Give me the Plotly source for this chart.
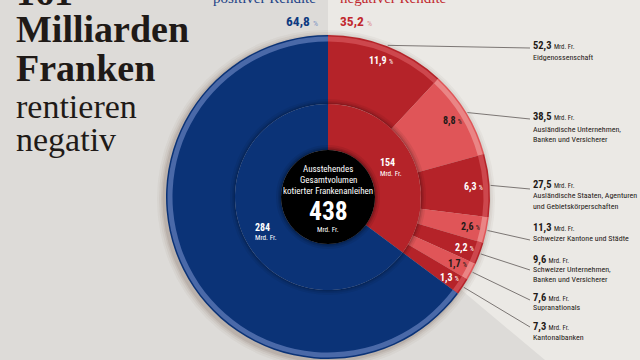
import numpy as np
import plotly.graph_objects as go

# ---------------- data ----------------
segment_values = [52.3, 38.5, 27.5, 11.3, 9.6, 7.6, 7.3]          # Mrd. Fr., negative yield
segment_value_labels = ["52,3", "38,5", "27,5", "11,3", "9,6", "7,6", "7,3"]
segment_pct_labels = ["11,9", "8,8", "6,3", "2,6", "2,2", "1,7", "1,3"]
segment_names = [
    ["Eidgenossenschaft"],
    ["Ausländische Unternehmen,", "Banken und Versicherer"],
    ["Ausländische Staaten, Agenturen", "und Gebietskörperschaften"],
    ["Schweizer Kantone und Städte"],
    ["Schweizer Unternehmen,", "Banken und Versicherer"],
    ["Supranationals"],
    ["Kantonalbanken"],
]
positive_total = 284
negative_total = 154
grand_total = 438
share_labels = ["64,8", "35,2"]
header_labels = ["positiver Rendite", "negativer Rendite"]
centre_lines = ["Ausstehendes", "Gesamtvolumen", "kotierter Frankenanleihen"]
unit = "Mrd. Fr."

# ---------------- style / layout ----------------
W, H = 640, 360
CX, CY = 328, 197
R_OUT, R_RIM_O, R_RIM_I, R_MID, R_IN = 162, 160.5, 155.5, 93, 47

BLUE, BLUE_RIM = "#0b3377", "#4a69a8"
RED_D, RED_L = "#b52329", "#e05558"
RED_D_RIM, RED_L_RIM = "#cd474d", "#ea8585"
TXT = "#1f1a17"
BG_L, BG_R = "#dddbd8", "#ebe9e5"
COND = "Liberation Sans Narrow, Roboto Condensed, Noto Sans Condensed, Liberation Sans, Arial, sans-serif"
SERIF = "Liberation Serif, DejaVu Serif, serif"


def px(x):
    return x / W


def py(y):
    return 1 - y / H


def dom(r):
    return dict(x=[max(0, px(CX - r)), min(1, px(CX + r))],
                y=[max(0, py(CY + r)), min(1, py(CY - r))])


fig = go.Figure()

shapes = []
shapes.append(dict(type="path", xref="paper", yref="paper", layer="below",
                   path=f"M {px(CX)} {py(0)} L 1 {py(0)} L 1 {py(H)} L {px(545)} {py(H)} L {px(CX)} {py(178)} Z",
                   fillcolor=BG_R, line=dict(width=0)))
for k, a in [(7, 0.04), (5, 0.05), (3, 0.07), (1.5, 0.09)]:
    shapes.append(dict(type="circle", xref="paper", yref="paper", layer="below",
                       x0=px(CX - 2 - R_OUT - k), x1=px(CX - 2 + R_OUT + k),
                       y0=py(CY + 2 + R_OUT + k), y1=py(CY + 2 - R_OUT - k),
                       fillcolor=f"rgba(70,45,25,{a})", line=dict(width=0)))

outer_vals = segment_values + [positive_total]
outer_cols = [RED_D if i % 2 == 0 else RED_L for i in range(len(segment_values))] + [BLUE]
rim_cols = [RED_D_RIM if i % 2 == 0 else RED_L_RIM for i in range(len(segment_values))] + [BLUE_RIM]

fig.add_trace(go.Pie(values=outer_vals, marker=dict(colors=outer_cols), domain=dom(R_OUT),
                     hole=R_MID / R_OUT, sort=False, direction="clockwise", rotation=0,
                     textinfo="none", hoverinfo="skip", showlegend=False))
fig.add_trace(go.Pie(values=outer_vals, marker=dict(colors=rim_cols), domain=dom(R_RIM_O),
                     hole=R_RIM_I / R_RIM_O, sort=False, direction="clockwise", rotation=0,
                     textinfo="none", hoverinfo="skip", showlegend=False))
for k, a in [(5, 0.06), (3, 0.08), (1.5, 0.12)]:
    fig.add_trace(go.Pie(values=[1], marker=dict(colors=[f"rgba(0,0,0,{a})"]),
                         domain=dom(R_MID + k), hole=R_MID / (R_MID + k), sort=False,
                         textinfo="none", hoverinfo="skip", showlegend=False))
fig.add_trace(go.Pie(values=[negative_total, positive_total], marker=dict(colors=[RED_D, BLUE]),
                     domain=dom(R_MID), hole=R_IN / R_MID, sort=False, direction="clockwise",
                     rotation=0, textinfo="none", hoverinfo="skip", showlegend=False))
for k, a in [(5, 0.07), (3, 0.1), (1.5, 0.15)]:
    fig.add_trace(go.Pie(values=[1], marker=dict(colors=[f"rgba(0,0,0,{a})"]),
                         domain=dom(R_IN + k), hole=R_IN / (R_IN + k), sort=False,
                         textinfo="none", hoverinfo="skip", showlegend=False))
fig.add_trace(go.Pie(values=[1], marker=dict(colors=["#000000"]), domain=dom(R_IN), hole=0,
                     sort=False, textinfo="none", hoverinfo="skip", showlegend=False))

annotations = []


def ann(x, y, text, size, color=TXT, family=COND, xanchor="left", yanchor="middle", align="left"):
    annotations.append(dict(x=px(x), y=py(y), xref="paper", yref="paper", text=text,
                            showarrow=False, xanchor=xanchor, yanchor=yanchor, align=align,
                            font=dict(size=size, color=color, family=family)))


# title
ann(14, -8.5, "<b>161</b>", 38, family=SERIF)
ann(14, 29, "<b>Milliarden</b>", 38, family=SERIF)
ann(14, 68, "<b>Franken</b>", 38, family=SERIF)
ann(14, 106, "rentieren", 34, family=SERIF)
ann(14, 140, "negativ", 34, family=SERIF)

# header
ann(318, -2.5, header_labels[0], 15, color="#1c3f86", family=SERIF, xanchor="right")
ann(338, -2.5, header_labels[1], 15, color="#c0272d", family=SERIF)
ann(320, 21, f"<b>{share_labels[0]}</b> <span style='font-size:8px;color:#7f95c4'>%</span>", 13.5,
    color="#0d3a80", xanchor="right")
ann(338, 21, f"<b>{share_labels[1]}</b> <span style='font-size:8px;color:#dc8a8c'>%</span>", 13.5,
    color="#c1272d")

# centre
for t, yy in zip(centre_lines, [169, 180, 191]):
    ann(CX, yy, t, 9, color="white", xanchor="center")
ann(CX, 211, f"<b>{grand_total}</b>", 25.5, color="white", xanchor="center")
ann(CX, 229, unit, 7.2, color="white", xanchor="center")
ann(378, 163, f"<b>{negative_total}</b>", 10, color="white")
ann(378, 173, unit, 7.2, color="white")
ann(253, 227, f"<b>{positive_total}</b>", 10, color="white")
ann(253, 237, unit, 7.2, color="white")

# segment labels and leader lines
tot = sum(outer_vals)
cum = np.cumsum([0] + segment_values[:-1])
mids = 2 * np.pi * (cum + np.array(segment_values) / 2) / tot
value_y = [45, 117, 185, 227, 259, 297, 326]
name_y = [57, 129, 196, 238, 269, 307, 337]
line_end_y = [48, 119, 189, 240, 270, 300, 327]
for i, th in enumerate(mids):
    r_t = 146
    tx, ty = CX + r_t * np.sin(th), CY - r_t * np.cos(th)
    col = "white" if i % 2 == 0 else TXT
    ann(tx, ty, f"<b>{segment_pct_labels[i]}</b> <span style='font-size:6.5px'>%</span>", 10,
        color=col, xanchor="center")
    sx, sy = CX + (R_OUT + 1) * np.sin(th), CY - (R_OUT + 1) * np.cos(th)
    shapes.append(dict(type="line", xref="paper", yref="paper", x0=px(sx), y0=py(sy),
                       x1=px(530), y1=py(line_end_y[i]), line=dict(color="#6e6966", width=0.9)))
    ann(531, value_y[i], f"<b>{segment_value_labels[i]}</b> <span style='font-size:6.8px'>{unit}</span>",
        10.5)
    for j, line in enumerate(segment_names[i]):
        ann(531, name_y[i] + j * 10.5, line, 8)

fig.update_layout(width=W, height=H, margin=dict(l=0, r=0, t=0, b=0),
                  paper_bgcolor=BG_L, plot_bgcolor=BG_L, shapes=shapes,
                  annotations=annotations, showlegend=False)
fig.write_html("out.html", config={"displayModeBar": False},
               post_script="document.body.style.margin='0px';")
